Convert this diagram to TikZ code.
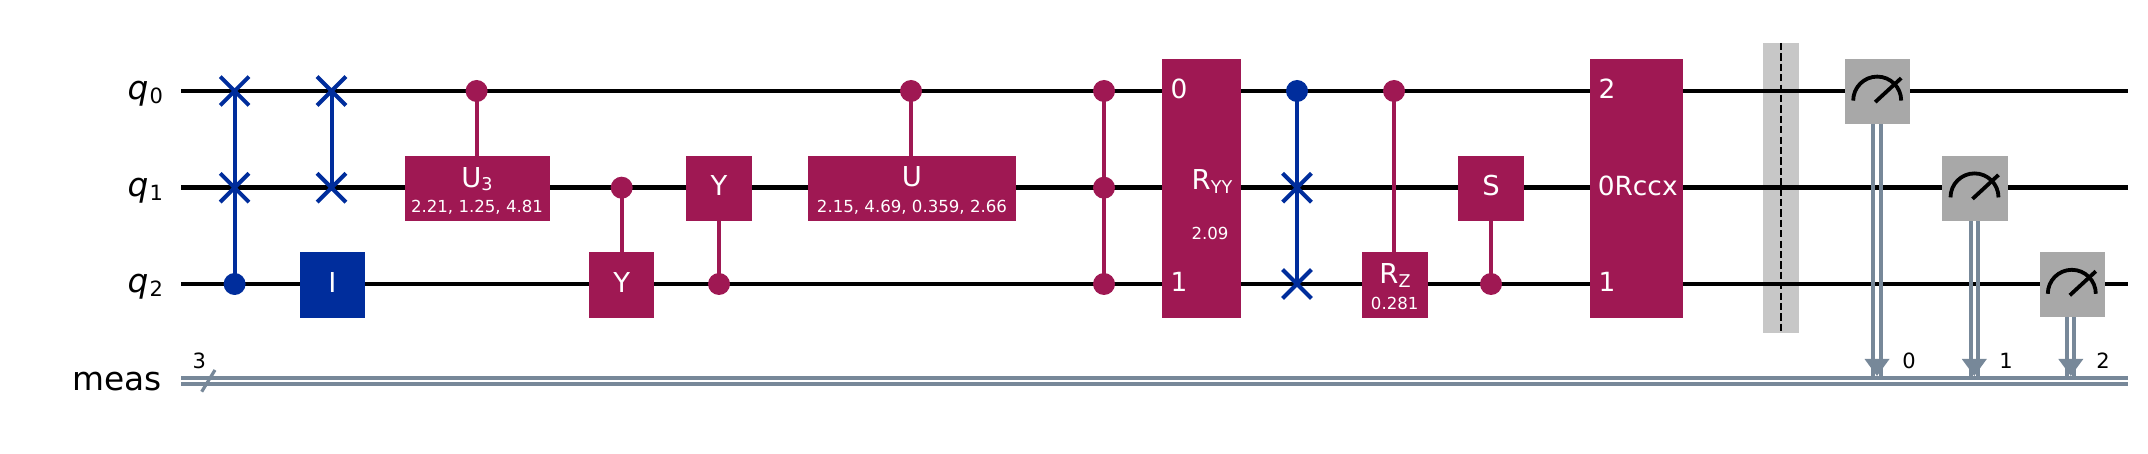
\documentclass[tikz,border=0pt]{standalone}
\usepackage{fontspec}
\setmainfont{DejaVu Sans}
\usetikzlibrary{shapes.misc,arrows.meta}
\definecolor{qmag}{HTML}{9F1853}
\definecolor{qblue}{HTML}{002D9C}
\definecolor{qgray}{HTML}{A8A8A8}
\definecolor{qcl}{HTML}{778899}
\newcommand{\sz}[1]{\fontsize{#1}{#1}\selectfont}
\newcommand{\low}[2]{\raisebox{-#1}{#2}}
\newcommand{\glabel}[1]{\raisebox{-3.6pt}[0pt][0pt]{#1}}
\tikzset{
 wire/.style={black,line width=2.3pt},
 gatebox/.style={rectangle,inner sep=0pt,outer sep=0pt,text=white,font=\sz{13.7}},
 mag/.style={gatebox,fill=qmag},
 blu/.style={gatebox,fill=qblue},
 meterbox/.style={gatebox,fill=qgray,minimum width=32.7pt,minimum height=32.7pt},
 dotm/.style={circle,fill=qmag,inner sep=0pt,outer sep=0pt,minimum size=11pt},
 dotb/.style={circle,fill=qblue,inner sep=0pt,outer sep=0pt,minimum size=11pt},
 swapx/.style={cross out,draw=qblue,line width=2pt,inner sep=0pt,outer sep=0pt,minimum size=14.4pt},
 linkm/.style={qmag,line width=2pt},
 linkb/.style={qblue,line width=2pt},
 lbl/.style={anchor=base east,font=\sz{16.4},inner sep=0pt},
 gtxt/.style={text=white,font=\sz{13.2},inner sep=0pt},
 mtxt/.style={text=white,font=\sz{13.7},inner sep=0pt,anchor=base},
 ptxt/.style={text=white,font=\sz{8.3},inner sep=0pt},
 small/.style={text=black,font=\sz{10.5},inner sep=0pt},
 cl/.style={qcl,line width=2pt},
 clw/.style={qcl,line width=2pt},
 clh/.style={qcl,draw=none,fill=qcl},
 needle/.style={black,line width=1.9pt},
}
\begin{document}
\begin{tikzpicture}[x=0.5pt,y=-0.5pt]
\useasboundingbox (0,0) rectangle (2148,454);
% wires
\coordinate (w0a) at (181,91); \coordinate (w0b) at (2128,91);
\coordinate (w1a) at (181,187.7); \coordinate (w1b) at (2128,187.7);
\coordinate (w2a) at (181,284); \coordinate (w2b) at (2128,284);
\coordinate (c1a) at (181,378); \coordinate (c1b) at (2128,378);
\coordinate (c2a) at (181,384); \coordinate (c2b) at (2128,384);
\draw[wire] (w0a) -- (w0b);
\draw[wire] (w1a) -- (w1b);
\draw[wire] (w2a) -- (w2b);
\draw[clw] (c1a) -- (c1b);
\draw[clw] (c2a) -- (c2b);
% register labels
\node[lbl] (lq0) at (163.3,99.8) {\textit{q}\kern0.5pt\low{2pt}{\sz{10.5}0}};
\node[lbl] (lq1) at (163.3,196.5) {\textit{q}\kern0.5pt\low{2pt}{\sz{10.5}1}};
\node[lbl] (lq2) at (163.3,292.8) {\textit{q}\kern0.5pt\low{2pt}{\sz{10.5}2}};
\node[lbl] (lm) at (162,391) {meas};
\coordinate (sa) at (201.7,391.7); \coordinate (sb) at (215,370);
\draw[qcl,line width=1.6pt] (sa) -- (sb);
\node[small] (n3) at (199.3,360.7) {3};
% swap 1
\node[swapx] (s1a) at (234.6,91) {};
\node[swapx] (s1b) at (234.6,187.7) {};
\node[dotb] (s1c) at (234.6,284) {};
\draw[linkb] (s1a.center) -- (s1c.center);
% swap 2
\node[swapx] (s2a) at (331.5,91) {};
\node[swapx] (s2b) at (331.5,187.7) {};
\draw[linkb] (s2a.center) -- (s2b.center);
% I
\node[blu,minimum width=32.6pt,minimum height=32.8pt] (gi) at (332.4,284.8) {\glabel{I}};
% CU3
\node[mag,minimum width=72.3pt,minimum height=32.4pt] (gu3) at (477.3,188.3) {};
\node[dotm] (du3) at (476.6,91) {};
\draw[linkm] (du3.center) -- (du3.center |- gu3.north);
\node[mtxt] (tu3) at (477,187.3) {U\low{1.7pt}{\sz{8.8}3}};
\node[ptxt] (pu3) at (477,207) {2.21, 1.25, 4.81};
% CY
\node[mag,minimum width=32.6pt,minimum height=32.8pt] (gy1) at (621.7,284.8) {\glabel{Y}};
\node[dotm] (dy1) at (621.7,187.7) {};
\draw[linkm] (dy1.center) -- (gy1.north);
% YC
\node[mag,minimum width=33pt,minimum height=32.4pt] (gy2) at (719,188.3) {\glabel{Y}};
\node[dotm] (dy2) at (719,284) {};
\draw[linkm] (gy2.south) -- (dy2.center);
% CU
\node[mag,minimum width=104pt,minimum height=32.4pt] (gu) at (912,188.3) {};
\node[dotm] (du) at (911,91) {};
\draw[linkm] (du.center) -- (du.center |- gu.north);
\node[mtxt] (tu) at (912,186.7) {U};
\node[ptxt] (pu) at (912,207) {2.15, 4.69, 0.359, 2.66};
% CCZ
\node[dotm] (cz0) at (1104,91) {};
\node[dotm] (cz1) at (1104,187.7) {};
\node[dotm] (cz2) at (1104,284) {};
\draw[linkm] (cz0.center) -- (cz2.center);
% RYY
\node[mag,minimum width=39.5pt,minimum height=129.4pt] (gryy) at (1201.5,188.35) {};
\node[gtxt] (ryy0) at (1179,89) {0};
\node[gtxt] (ryy1) at (1179,282) {1};
\node[mtxt] (tryy) at (1212,190) {R\low{2pt}{\sz{8.8}YY}};
\node[ptxt] (pryy) at (1210,233) {2.09};
% swap 3
\node[dotb] (s3a) at (1297,91) {};
\node[swapx] (s3b) at (1297,187.7) {};
\node[swapx] (s3c) at (1297,284) {};
\draw[linkb] (s3a.center) -- (s3c.center);
% CRZ
\node[mag,minimum width=32.8pt,minimum height=32.8pt] (grz) at (1394.7,284.8) {};
\node[dotm] (drz) at (1394,91) {};
\draw[linkm] (drz.center) -- (drz.center |- grz.north);
\node[mtxt] (trz) at (1395,283.3) {R\low{2pt}{\sz{8.8}Z}};
\node[ptxt] (prz) at (1394.7,303) {0.281};
% S
\node[mag,minimum width=33pt,minimum height=32.4pt] (gs) at (1491,188.3) {\glabel{S}};
\node[dotm] (ds) at (1491,284) {};
\draw[linkm] (gs.south) -- (ds.center);
% Rccx
\node[mag,minimum width=46.2pt,minimum height=129.4pt] (grc) at (1636.3,188.35) {};
\node[gtxt] (rc2) at (1607,89) {2};
\node[gtxt] (rc1) at (1607,282) {1};
\node[gtxt,anchor=base east] (rct) at (1678,196) {0Rccx};
% barrier
\node[rectangle,fill=black,opacity=0.22,minimum width=18.3pt,minimum height=144.9pt,inner sep=0pt,outer sep=0pt] (bar) at (1780.8,187.85) {};
\draw[black,line width=1pt,dash pattern=on 3.6pt off 1.6pt] (bar.north) -- (bar.south);
% classical targets
\coordinate (t0) at (1877,376);
\coordinate (t1) at (1974.3,376);
\coordinate (t2) at (2070.8,376);
% measures
\node[meterbox] (m0) at (1877.7,91.6) {};
\node[meterbox] (m1) at (1975,188.4) {};
\node[meterbox] (m2) at (2072.3,284.8) {};
\foreach \m/\t in {m0/t0,m1/t1,m2/t2}{
 \draw[cl] ([xshift=-1.8pt]\t |- \m.south) -- ([xshift=-1.8pt]\t);
 \draw[cl] ([xshift=1.8pt]\t |- \m.south) -- ([xshift=1.8pt]\t);
 \fill[clh] (\t) -- ++(-12.5,-17) -- ++(25,0) -- cycle;
 \begin{scope}[shift={(\m.center)}]
  \draw[needle] (-24.5,9) arc[start angle=180,end angle=0,radius=12pt];
  \draw[needle] (-2.5,10.5) -- (23.5,-13.5);
 \end{scope}
}
\node[small] (n0) at (1909,360.5) {0};
\node[small] (n1) at (2006,360.5) {1};
\node[small] (n2) at (2103,360.5) {2};
\end{tikzpicture}
\end{document}
